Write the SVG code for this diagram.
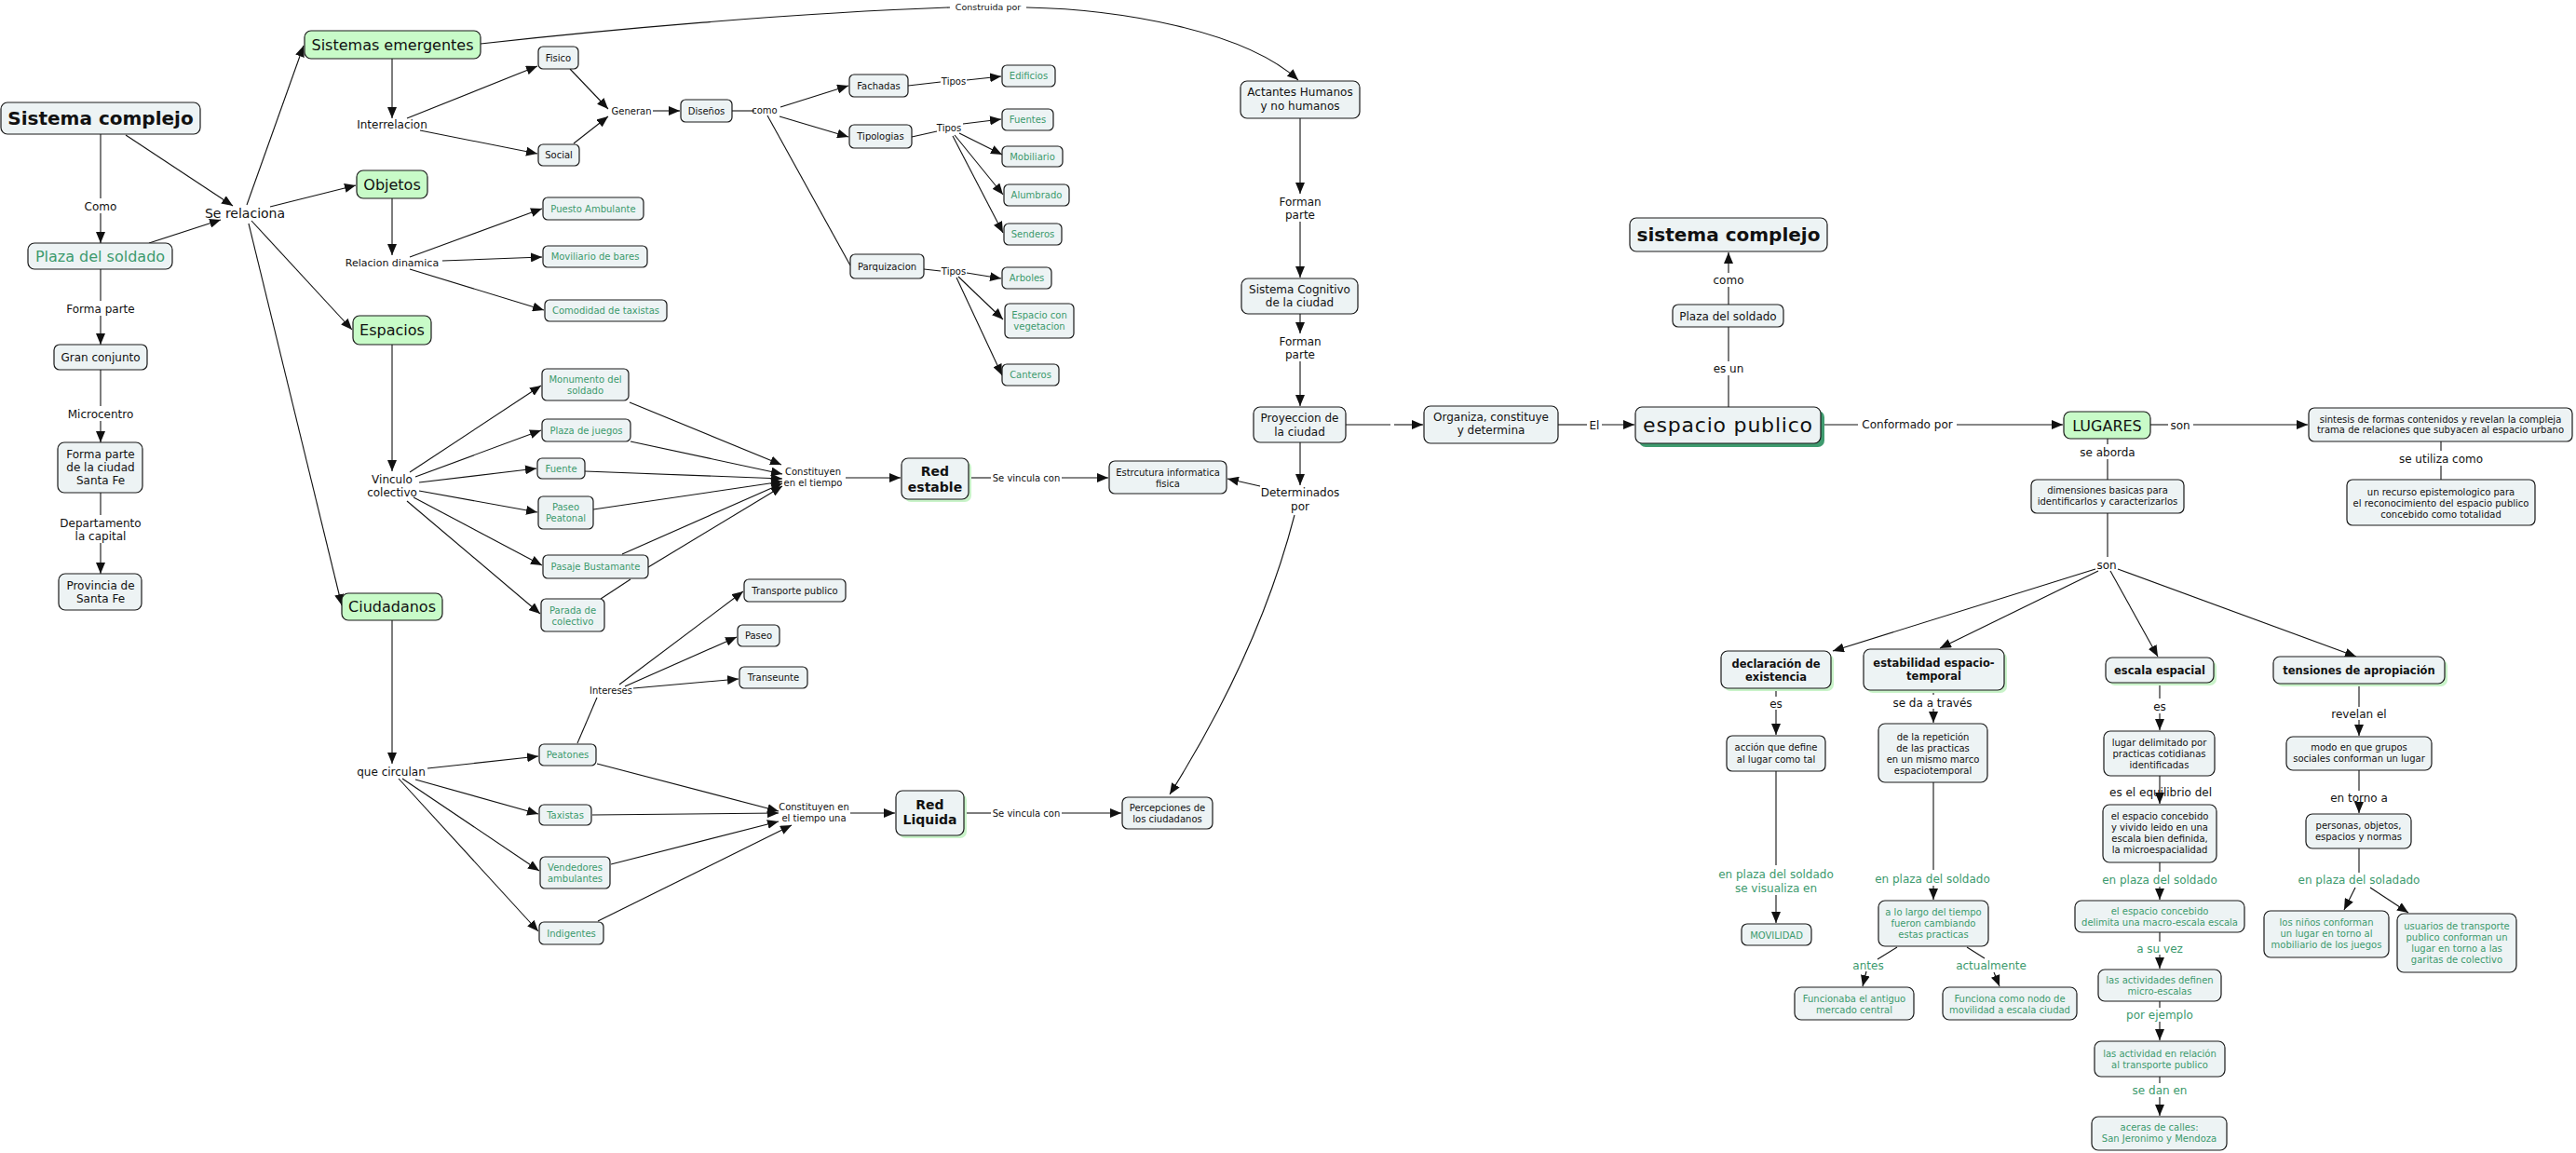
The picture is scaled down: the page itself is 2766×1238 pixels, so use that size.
<svg xmlns="http://www.w3.org/2000/svg" width="2766" height="1238" viewBox="0 0 2766 1238">
<defs>
<marker id="ah" viewBox="0 0 12 10" refX="12" refY="5" markerWidth="12" markerHeight="10" orient="auto" markerUnits="userSpaceOnUse"><path d="M0,0 L12,5 L0,10 z" fill="#111"/></marker>
</defs>
<style>
text{font-family:"DejaVu Sans",Verdana,sans-serif;fill:#111;text-anchor:middle}
.n rect{fill:#edf3f4;stroke:#1a1a1a;stroke-width:1.2}
.n.g rect{fill:#c8fbc8}
.t text{fill:#3c9a6d}
text.t{fill:#3c9a6d}
.n rect.sh{fill:#c9f3c9;stroke:none}
.n rect.sh2{fill:#3f9b6f;stroke:none}
.b text{font-weight:bold}
.f95{font-size:9.5px}.f10{font-size:10px}.f11{font-size:11px}.f115{font-size:11.5px}.f12{font-size:12px}.f14{font-size:14px}.f16{font-size:16px}.f20{font-size:20px}
#connectors path{stroke:#111;stroke-width:1.1;fill:none}
#connectors path.a{marker-end:url(#ah)}
</style>
<rect width="2766" height="1238" fill="#fff"/>

<g id="connectors">
<path d="M108,144 V213"/><path class="a" d="M108,229 V261"/>
<path d="M108,289 V323"/><path class="a" d="M108,339 V370"/>
<path d="M108,397 V436"/><path class="a" d="M108,452 V475"/>
<path d="M108,529 V553"/><path class="a" d="M108,583 V616"/>
<path class="a" d="M135,145 L250,221"/>
<path class="a" d="M160,261 L237,236"/>
<path class="a" d="M265,220 L326,49"/>
<path class="a" d="M290,222 L382,199"/>
<path class="a" d="M270,237 L378,354"/>
<path class="a" d="M267,240 L367,650"/>
<path class="a" d="M421,63 V127"/>
<path class="a" d="M437,127 L577,71"/>
<path class="a" d="M451,140 L577,165"/>
<path class="a" d="M612,74 L653,117"/>
<path class="a" d="M616,154 L653,125"/>
<path class="a" d="M701,119 H730"/>
<path d="M786,119 H810"/>
<path class="a" d="M838,115 L911,92"/>
<path class="a" d="M837,125 L911,147"/>
<path d="M824,124 L913,285"/>
<path d="M975,92 L1010,88"/><path class="a" d="M1038,86 L1075,82"/>
<path d="M979,147 L1006,141"/>
<path class="a" d="M1034,133 L1075,128"/>
<path class="a" d="M1030,143 L1076,166"/>
<path class="a" d="M1025,145 L1077,209"/>
<path class="a" d="M1023,146 L1077,250"/>
<path d="M992,289 L1010,291"/>
<path class="a" d="M1038,293 L1075,299"/>
<path class="a" d="M1029,297 L1077,343"/>
<path class="a" d="M1027,298 L1076,403"/>
<path d="M516,47 C650,32 850,14 1020,8"/>
<path class="a" d="M1102,8 C1200,10 1335,32 1394,86"/>
<path class="a" d="M421,213 V274"/>
<path class="a" d="M440,276 L582,224"/>
<path class="a" d="M475,280 L582,276"/>
<path class="a" d="M440,289 L584,333"/>
<path class="a" d="M421,370 V506"/>
<path class="a" d="M440,507 L581,414"/>
<path class="a" d="M446,512 L581,462"/>
<path class="a" d="M450,518 L576,503"/>
<path class="a" d="M450,527 L577,550"/>
<path class="a" d="M444,534 L582,607"/>
<path class="a" d="M437,538 L580,659"/>
<path class="a" d="M676,432 L839,499"/>
<path class="a" d="M677,474 L840,509"/>
<path class="a" d="M628,506 L840,514"/>
<path class="a" d="M637,547 L840,517"/>
<path class="a" d="M668,595 L840,519"/>
<path d="M645,643 L677,622"/>
<path class="a" d="M696,609 L840,522"/>
<path class="a" d="M908,513 H967"/>
<path d="M1041,513 H1064"/><path class="a" d="M1140,513 H1190"/>
<path class="a" d="M421,666 V820"/>
<path class="a" d="M459,825 L578,812"/>
<path class="a" d="M446,837 L578,874"/>
<path class="a" d="M432,836 L579,935"/>
<path class="a" d="M428,836 L578,1000"/>
<path d="M620,798 L641,749"/>
<path class="a" d="M665,735 L798,635"/>
<path class="a" d="M671,737 L791,684"/>
<path class="a" d="M680,739 L793,729"/>
<path class="a" d="M641,820 L836,871"/>
<path class="a" d="M636,875 L836,873"/>
<path class="a" d="M656,928 L836,882"/>
<path class="a" d="M642,989 L850,886"/>
<path class="a" d="M913,873 H961"/>
<path d="M1036,873 H1064"/><path class="a" d="M1140,873 H1204"/>
<path class="a" d="M1396,127 V208"/>
<path class="a" d="M1396,238 V298"/>
<path class="a" d="M1396,337 V358"/>
<path class="a" d="M1396,388 V436"/>
<path d="M1445,456 H1493"/><path class="a" d="M1497,456 H1528"/>
<path class="a" d="M1396,475 V521"/>
<path class="a" d="M1353,522 L1318,514"/>
<path class="a" d="M1390,553 Q1352,700 1256,853"/>
<path d="M1673,456 H1704"/><path class="a" d="M1720,456 H1755"/>
<path d="M1856,437 V403"/><path d="M1856,388 V351"/>
<path d="M1856,327 V308"/><path class="a" d="M1856,293 V271"/>
<path d="M1955,456 H1995"/><path class="a" d="M2101,456 H2215"/>
<path d="M2309,456 H2328"/><path class="a" d="M2355,456 H2478"/>
<path d="M2621,474 V484"/><path d="M2621,500 V515"/>
<path d="M2263,471 V477"/><path d="M2263,493 V515"/>
<path d="M2263,551 V598"/>
<path class="a" d="M2250,611 L1968,699"/>
<path class="a" d="M2253,613 L2083,696"/>
<path class="a" d="M2266,613 L2317,705"/>
<path class="a" d="M2274,611 L2530,705"/>
<path d="M1907,739 V748"/><path class="a" d="M1907,762 V789"/>
<path d="M1907,828 V929"/><path class="a" d="M1907,961 V991"/>
<path d="M2076,741 V746"/><path class="a" d="M2076,761 V776"/>
<path d="M2076,840 V934"/><path class="a" d="M2076,951 V966"/>
<path d="M2037,1017 L2016,1030"/><path class="a" d="M2004,1043 L2000,1059"/>
<path d="M2112,1017 L2131,1029"/><path class="a" d="M2141,1044 L2147,1059"/>
<path d="M2319,733 V750"/><path class="a" d="M2319,766 V784"/>
<path class="a" d="M2319,833 V863"/>
<path d="M2319,926 V936"/><path class="a" d="M2319,952 V966"/>
<path d="M2319,1001 V1011"/><path class="a" d="M2319,1025 V1040"/>
<path d="M2319,1075 V1082"/><path class="a" d="M2319,1097 V1117"/>
<path d="M2319,1156 V1163"/><path class="a" d="M2319,1178 V1198"/>
<path d="M2533,734 V759"/><path class="a" d="M2533,773 V790"/>
<path d="M2533,827 V849"/><path class="a" d="M2533,863 V873"/>
<path d="M2533,911 V937"/>
<path class="a" d="M2529,953 L2517,977"/>
<path class="a" d="M2545,953 L2586,980"/>

<g class="f12">
<text x="108" y="225.5">Como</text>
<text x="108" y="335.5">Forma parte</text>
<text x="108" y="448.5">Microcentro</text>
<text x="108" y="565.5">Departamento</text><text x="108" y="579.5">la capital</text>
<text x="421" y="138">Interrelacion</text>
<text x="421" y="518.5">Vinculo</text><text x="421" y="532.5">colectivo</text>
<text x="420" y="832.5">que circulan</text>
<text x="1396" y="220.5">Forman</text><text x="1396" y="234.5">parte</text>
<text x="1396" y="370.5">Forman</text><text x="1396" y="384.5">parte</text>
<text x="1396" y="532.5">Determinados</text><text x="1396" y="547.5">por</text>
<text x="1712" y="460.5">El</text>
<text x="1856" y="399.5">es un</text>
<text x="1856" y="304.5">como</text>
<text x="2048" y="459.5">Conformado por</text>
<text x="2341" y="460.5">son</text>
<text x="2621" y="496.5">se utiliza como</text>
<text x="2263" y="489.5">se aborda</text>
<text x="2262" y="610.5">son</text>
<text x="1907" y="759.5">es</text>
<text x="2075" y="758.5">se da a través</text>
<text x="2319" y="762.5">es</text>
<text x="2320" y="854.5">es el equilibrio del</text>
<text x="2533" y="770.5">revelan el</text>
<text x="2533" y="860.5">en torno a</text>
<text class="t" x="1907" y="942.5">en plaza del soldado</text><text class="t" x="1907" y="957.5">se visualiza en</text>
<text class="t" x="2075" y="947.5">en plaza del soldado</text>
<text class="t" x="2006" y="1040.5">antes</text>
<text class="t" x="2138" y="1040.5">actualmente</text>
<text class="t" x="2319" y="948.5">en plaza del soldado</text>
<text class="t" x="2319" y="1022.5">a su vez</text>
<text class="t" x="2319" y="1093.5">por ejemplo</text>
<text class="t" x="2319" y="1174.5">se dan en</text>
<text class="t" x="2533" y="948.5">en plaza del soladado</text>
</g>
<text class="f14" x="263" y="234">Se relaciona</text>
<text class="f11" x="421" y="286">Relacion dinamica</text>
<g class="f10">
<text x="678" y="122.5">Generan</text>
<text x="821" y="121.5">como</text>
<text x="1024" y="90.5">Tipos</text>
<text x="1019" y="140.5">Tipos</text>
<text x="1024" y="294.5">Tipos</text>
<text x="873" y="509.5">Constituyen</text><text x="873" y="521.5">en el tiempo</text>
<text x="1102" y="516.5">Se vincula con</text>
<text x="656" y="744.5">Intereses</text>
<text x="874" y="869.5">Constituyen en</text><text x="874" y="881.5">el tiempo una</text>
<text x="1102" y="876.5">Se vincula con</text>
</g>
<text class="f95" x="1061" y="10.5">Construida por</text>
</g>

<g id="sistema-complejo" class="n b f20"><rect x="1" y="110" width="214" height="34" rx="7"/><text x="108" y="134">Sistema complejo</text></g>
<g id="plaza-soldado-1" class="n t f16"><rect x="30" y="261" width="155" height="28" rx="7"/><text x="107.5" y="281">Plaza del soldado</text></g>
<g id="gran-conjunto" class="n f12"><rect x="58" y="370" width="100" height="27" rx="6"/><text x="108" y="388">Gran conjunto</text></g>
<g id="forma-parte-ciudad" class="n f12"><rect x="62" y="475" width="91" height="54" rx="7"/><text x="108" y="492">Forma parte</text><text x="108" y="506">de la ciudad</text><text x="108" y="520">Santa Fe</text></g>
<g id="provincia" class="n f12"><rect x="63" y="616" width="89" height="39" rx="7"/><text x="108" y="633">Provincia de</text><text x="108" y="647">Santa Fe</text></g>

<g id="sistemas-emergentes" class="n g f16"><rect x="327" y="33" width="189" height="30" rx="7"/><text x="421.5" y="54">Sistemas emergentes</text></g>
<g id="objetos" class="n g f16"><rect x="383" y="183" width="76" height="30" rx="7"/><text x="421" y="204">Objetos</text></g>
<g id="espacios" class="n g f16"><rect x="379" y="339" width="84" height="31" rx="7"/><text x="421" y="360">Espacios</text></g>
<g id="ciudadanos" class="n g f16"><rect x="367" y="637" width="108" height="29" rx="7"/><text x="421" y="657">Ciudadanos</text></g>

<g id="fisico" class="n f10"><rect x="578" y="50" width="43" height="24" rx="5"/><text x="599.5" y="65.5">Fisico</text></g>
<g id="social" class="n f10"><rect x="578" y="155" width="44" height="23" rx="5"/><text x="600" y="170">Social</text></g>
<g id="disenos" class="n f10"><rect x="731" y="107" width="55" height="24" rx="5"/><text x="758.5" y="122.5">Diseños</text></g>
<g id="fachadas" class="n f10"><rect x="912" y="80" width="63" height="24" rx="5"/><text x="943.5" y="95.5">Fachadas</text></g>
<g id="tipologias" class="n f10"><rect x="912" y="134" width="67" height="25" rx="5"/><text x="945.5" y="150">Tipologias</text></g>
<g id="parquizacion" class="n f10"><rect x="913" y="273" width="79" height="26" rx="5"/><text x="952.5" y="289.5">Parquizacion</text></g>
<g id="edificios" class="n t f10"><rect x="1076" y="70" width="57" height="23" rx="5"/><text x="1104.5" y="85">Edificios</text></g>
<g id="fuentes" class="n t f10"><rect x="1076" y="117" width="55" height="23" rx="5"/><text x="1103.5" y="132">Fuentes</text></g>
<g id="mobiliario" class="n t f10"><rect x="1076" y="157" width="65" height="22" rx="5"/><text x="1108.5" y="171.5">Mobiliario</text></g>
<g id="alumbrado" class="n t f10"><rect x="1078" y="198" width="70" height="23" rx="5"/><text x="1113" y="213">Alumbrado</text></g>
<g id="senderos" class="n t f10"><rect x="1078" y="240" width="62" height="23" rx="5"/><text x="1109" y="255">Senderos</text></g>
<g id="arboles" class="n t f10"><rect x="1076" y="287" width="53" height="23" rx="5"/><text x="1102.5" y="302">Arboles</text></g>
<g id="espacio-vegetacion" class="n t f10"><rect x="1079" y="326" width="74" height="37" rx="5"/><text x="1116" y="341.5">Espacio con</text><text x="1116" y="353.5">vegetacion</text></g>
<g id="canteros" class="n t f10"><rect x="1076" y="391" width="61" height="23" rx="5"/><text x="1106.5" y="406">Canteros</text></g>

<g id="puesto-ambulante" class="n t f10"><rect x="583" y="212" width="108" height="24" rx="5"/><text x="637" y="227.5">Puesto Ambulante</text></g>
<g id="moviliario-bares" class="n t f10"><rect x="583" y="264" width="112" height="23" rx="5"/><text x="639" y="279">Moviliario de bares</text></g>
<g id="comodidad-taxistas" class="n t f10"><rect x="585" y="322" width="131" height="23" rx="5"/><text x="650.5" y="337">Comodidad de taxistas</text></g>

<g id="monumento" class="n t f10"><rect x="582" y="396" width="93" height="34" rx="5"/><text x="628.5" y="410.5">Monumento del</text><text x="628.5" y="422.5">soldado</text></g>
<g id="plaza-juegos" class="n t f10"><rect x="582" y="450" width="95" height="24" rx="5"/><text x="629.5" y="465.5">Plaza de juegos</text></g>
<g id="fuente" class="n t f10"><rect x="577" y="492" width="51" height="22" rx="5"/><text x="602.5" y="506.5">Fuente</text></g>
<g id="paseo-peatonal" class="n t f10"><rect x="578" y="533" width="59" height="35" rx="5"/><text x="607.5" y="548">Paseo</text><text x="607.5" y="560">Peatonal</text></g>
<g id="pasaje-bustamante" class="n t f10"><rect x="583" y="596" width="113" height="25" rx="5"/><text x="639.5" y="612">Pasaje Bustamante</text></g>
<g id="parada-colectivo" class="n t f10"><rect x="581" y="643" width="68" height="35" rx="5"/><text x="615" y="658.5">Parada de</text><text x="615" y="670.5">colectivo</text></g>

<g id="peatones" class="n t f10"><rect x="579" y="799" width="61" height="23" rx="5"/><text x="609.5" y="814">Peatones</text></g>
<g id="taxistas" class="n t f10"><rect x="579" y="864" width="56" height="22" rx="5"/><text x="607" y="878.5">Taxistas</text></g>
<g id="vendedores" class="n t f10"><rect x="580" y="920" width="75" height="34" rx="5"/><text x="617.5" y="934.5">Vendedores</text><text x="617.5" y="946.5">ambulantes</text></g>
<g id="indigentes" class="n t f10"><rect x="579" y="990" width="69" height="24" rx="5"/><text x="613.5" y="1005.5">Indigentes</text></g>

<g id="transporte-publico" class="n f10"><rect x="799" y="622" width="109" height="24" rx="5"/><text x="853.5" y="637.5">Transporte publico</text></g>
<g id="paseo" class="n f10"><rect x="792" y="671" width="45" height="23" rx="5"/><text x="814.5" y="686">Paseo</text></g>
<g id="transeunte" class="n f10"><rect x="794" y="716" width="73" height="23" rx="5"/><text x="830.5" y="731">Transeunte</text></g>

<g id="red-estable" class="n b f14"><rect class="sh" x="971" y="495" width="72" height="44" rx="7"/><rect x="968" y="492" width="72" height="44" rx="7"/><text x="1004" y="511">Red</text><text x="1004" y="528">estable</text></g>
<g id="red-liquida" class="n b f14"><rect class="sh" x="965" y="852" width="73" height="48" rx="7"/><rect x="962" y="849" width="73" height="48" rx="7"/><text x="998.5" y="868.5">Red</text><text x="998.5" y="885">Liquida</text></g>
<g id="estructura" class="n f10"><rect x="1191" y="495" width="126" height="35" rx="6"/><text x="1254" y="510.5">Estrcutura informatica</text><text x="1254" y="522.5">fisica</text></g>
<g id="percepciones" class="n f10"><rect x="1205" y="856" width="97" height="34" rx="6"/><text x="1253.5" y="870.5">Percepciones de</text><text x="1253.5" y="882.5">los ciudadanos</text></g>

<g id="actantes" class="n f12"><rect x="1332" y="87" width="128" height="40" rx="7"/><text x="1396" y="103">Actantes Humanos</text><text x="1396" y="117.5">y no humanos</text></g>
<g id="sistema-cognitivo" class="n f12"><rect x="1333" y="299" width="125" height="38" rx="7"/><text x="1395.5" y="315">Sistema Cognitivo</text><text x="1395.5" y="329">de la ciudad</text></g>
<g id="proyeccion" class="n f12"><rect x="1346" y="437" width="99" height="38" rx="7"/><text x="1395.5" y="453">Proyeccion de</text><text x="1395.5" y="467.5">la ciudad</text></g>
<g id="organiza" class="n f12"><rect x="1529" y="436" width="144" height="40" rx="7"/><text x="1601" y="452">Organiza, constituye</text><text x="1601" y="466">y determina</text></g>
<g id="espacio-publico" class="n"><rect class="sh2" x="1760" y="441" width="199" height="39" rx="7"/><rect x="1756" y="437" width="199" height="39" rx="7"/><text x="1855.5" y="464" style="font-size:22px;letter-spacing:0.8px">espacio publico</text></g>
<g id="plaza-soldado-2" class="n f12"><rect x="1796" y="327" width="119" height="24" rx="6"/><text x="1855.5" y="343.5">Plaza del soldado</text></g>
<g id="sistema-complejo-2" class="n b f20"><rect x="1750" y="234" width="212" height="36" rx="7"/><text x="1856" y="259">sistema complejo</text></g>
<g id="lugares" class="n g f16"><rect x="2216" y="442" width="93" height="29" rx="7"/><text x="2262.5" y="462.5">LUGARES</text></g>
<g id="sintesis" class="n f10"><rect x="2479" y="438" width="283" height="36" rx="6"/><text x="2620.5" y="453.5">sintesis de formas contenidos y revelan la compleja</text><text x="2620.5" y="465">trama de relaciones que subyacen al espacio urbano</text></g>
<g id="recurso" class="n f10"><rect x="2520" y="515" width="202" height="49" rx="6"/><text x="2621" y="531.5">un recurso epistemologico para</text><text x="2621" y="543.5">el reconocimiento del espacio publico</text><text x="2621" y="555.5">concebido como totalidad</text></g>
<g id="dimensiones" class="n f10"><rect x="2181" y="515" width="164" height="36" rx="6"/><text x="2263" y="529.5">dimensiones basicas para</text><text x="2263" y="541.5">identificarlos y caracterizarlos</text></g>

<g id="declaracion" class="n b f115"><rect class="sh" x="1851" y="702" width="118" height="40" rx="7"/><rect x="1848" y="699" width="118" height="40" rx="7"/><text x="1907" y="717">declaración de</text><text x="1907" y="731">existencia</text></g>
<g id="estabilidad" class="n b f115"><rect class="sh" x="2004" y="700" width="151" height="44" rx="7"/><rect x="2001" y="697" width="151" height="44" rx="7"/><text x="2076.5" y="715.5">estabilidad espacio-</text><text x="2076.5" y="729.5">temporal</text></g>
<g id="escala-espacial" class="n b f115"><rect class="sh" x="2264" y="709" width="116" height="27" rx="7"/><rect x="2261" y="706" width="116" height="27" rx="7"/><text x="2319" y="723.5">escala espacial</text></g>
<g id="tensiones" class="n b f115"><rect class="sh" x="2444" y="708" width="184" height="29" rx="7"/><rect x="2441" y="705" width="184" height="29" rx="7"/><text x="2533" y="723.5">tensiones de apropiación</text></g>

<g id="accion" class="n f10"><rect x="1854" y="790" width="106" height="38" rx="6"/><text x="1907" y="805.5">acción que define</text><text x="1907" y="818.5">al lugar como tal</text></g>
<g id="movilidad" class="n t f10"><rect x="1870" y="992" width="75" height="23" rx="6"/><text x="1907.5" y="1007.5">MOVILIDAD</text></g>
<g id="repeticion" class="n f10"><rect x="2017" y="777" width="117" height="63" rx="7"/><text x="2075.5" y="794.5">de la repetición</text><text x="2075.5" y="806.5">de las practicas</text><text x="2075.5" y="818.5">en un mismo marco</text><text x="2075.5" y="830.5">espaciotemporal</text></g>
<g id="a-lo-largo" class="n t f10"><rect x="2017" y="967" width="118" height="49" rx="7"/><text x="2076" y="982.5">a lo largo del tiempo</text><text x="2076" y="994.5">fueron cambiando</text><text x="2076" y="1006.5">estas practicas</text></g>
<g id="funcionaba" class="n t f10"><rect x="1927" y="1060" width="128" height="35" rx="7"/><text x="1991" y="1075.5">Funcionaba el antiguo</text><text x="1991" y="1087.5">mercado central</text></g>
<g id="funciona" class="n t f10"><rect x="2086" y="1060" width="144" height="35" rx="7"/><text x="2158" y="1075.5">Funciona como nodo de</text><text x="2158" y="1087.5">movilidad a escala ciudad</text></g>
<g id="lugar-delimitado" class="n f10"><rect x="2259" y="785" width="119" height="48" rx="7"/><text x="2318.5" y="800.5">lugar delimitado por</text><text x="2318.5" y="812.5">practicas cotidianas</text><text x="2318.5" y="824.5">identificadas</text></g>
<g id="espacio-concebido-vivido" class="n f10"><rect x="2258" y="864" width="122" height="62" rx="7"/><text x="2319" y="879.5">el espacio concebido</text><text x="2319" y="891.5">y vivido leido en una</text><text x="2319" y="903.5">escala bien definida,</text><text x="2319" y="915.5">la microespacialidad</text></g>
<g id="macro-escala" class="n t f10"><rect x="2228" y="967" width="182" height="34" rx="7"/><text x="2319" y="981.5">el espacio concebido</text><text x="2319" y="993.5">delimita una macro-escala escala</text></g>
<g id="micro-escalas" class="n t f10"><rect x="2253" y="1041" width="132" height="34" rx="7"/><text x="2319" y="1055.5">las actividades definen</text><text x="2319" y="1067.5">micro-escalas</text></g>
<g id="actividad-transporte" class="n t f10"><rect x="2249" y="1118" width="140" height="38" rx="7"/><text x="2319" y="1134.5">las actividad en relación</text><text x="2319" y="1146.5">al transporte publico</text></g>
<g id="aceras" class="n t f10"><rect x="2246" y="1199" width="145" height="36" rx="7"/><text x="2318.5" y="1213.5">aceras de calles:</text><text x="2318.5" y="1225.5">San Jeronimo y Mendoza</text></g>
<g id="modo" class="n f10"><rect x="2455" y="791" width="156" height="36" rx="7"/><text x="2533" y="805.5">modo en que grupos</text><text x="2533" y="817.5">sociales conforman un lugar</text></g>
<g id="personas" class="n f10"><rect x="2476" y="874" width="113" height="37" rx="7"/><text x="2532.5" y="889.5">personas, objetos,</text><text x="2532.5" y="901.5">espacios y normas</text></g>
<g id="ninos" class="n t f10"><rect x="2431" y="978" width="134" height="50" rx="7"/><text x="2498" y="993.5">los niños conforman</text><text x="2498" y="1005.5">un lugar en torno al</text><text x="2498" y="1017.5">mobiliario de los juegos</text></g>
<g id="usuarios" class="n t f10"><rect x="2574" y="981" width="128" height="63" rx="7"/><text x="2638" y="997.5">usuarios de transporte</text><text x="2638" y="1009.5">publico conforman un</text><text x="2638" y="1021.5">lugar en torno a las</text><text x="2638" y="1033.5">garitas de colectivo</text></g>
</svg>
